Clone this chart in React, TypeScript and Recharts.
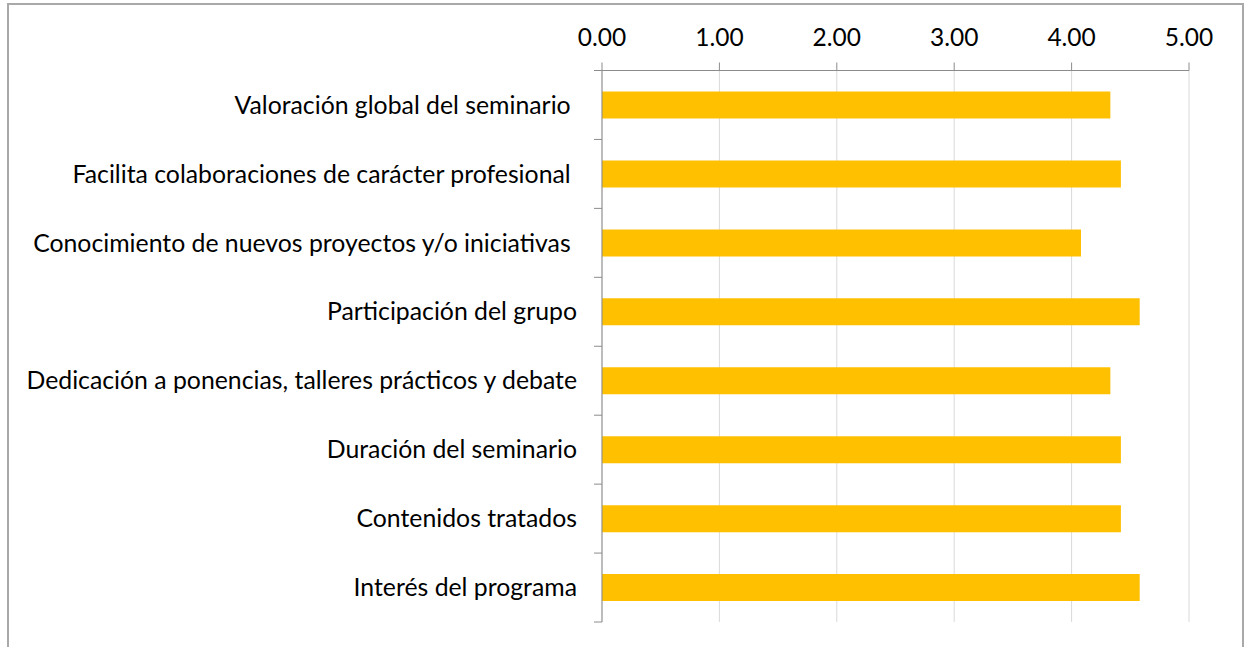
import React from 'react';
import { BarChart, Bar, XAxis, YAxis, CartesianGrid } from 'recharts';

const categories = [
  'Valoración global del seminario ',
  'Facilita colaboraciones de carácter profesional ',
  'Conocimiento de nuevos proyectos y/o iniciativas ',
  'Participación del grupo',
  'Dedicación a ponencias, talleres prácticos y debate',
  'Duración del seminario',
  'Contenidos tratados',
  'Interés del programa',
];
const scores = [4.33, 4.42, 4.08, 4.58, 4.33, 4.42, 4.42, 4.58];
const xTicks = [0, 1, 2, 3, 4, 5];

const data = categories.map((name, i) => ({ name, score: scores[i] }));

const W = 1245;
const H = 647;
const margin = { top: 40, right: 56, bottom: 25, left: 0 };
const X_AXIS_H = 30.5;
const Y_AXIS_W = 602;
const BAND = (H - margin.bottom - margin.top - X_AXIS_H) / categories.length;

const FONT = 'Lato, "Open Sans", sans-serif';
const FONT_SIZE = 24.8;
const AXIS_COLOR = '#8c8c8c';

// category labels, with the tick marks drawn between the categories
const CategoryTick = (props: any) => {
  const { x, y, payload, index } = props;
  const x0 = Y_AXIS_W - 8;
  return (
    <g>
      <line x1={x0} x2={Y_AXIS_W} y1={y - BAND / 2} y2={y - BAND / 2} stroke={AXIS_COLOR} />
      {index === categories.length - 1 && (
        <line x1={x0} x2={Y_AXIS_W} y1={y + BAND / 2} y2={y + BAND / 2} stroke={AXIS_COLOR} />
      )}
      <text
        x={x}
        y={y}
        dy="0.35em"
        textAnchor="end"
        fill="#000"
        fontFamily={FONT}
        fontSize={FONT_SIZE}
        style={{ whiteSpace: 'pre' }}
      >
        {payload.value}
      </text>
    </g>
  );
};

export default function App() {
  return (
    <div style={{ position: 'absolute', left: 0, top: 0, width: W, height: H, overflow: 'hidden', background: '#fff' }}>
      <div
        style={{
          position: 'absolute',
          left: 7,
          top: 3,
          width: 1233,
          height: 700,
          border: '2px solid #a9a9a9',
        }}
      />
      <div style={{ position: 'absolute', left: 0, top: 0 }}>
        <BarChart width={W} height={H} data={data} layout="vertical" margin={margin} barSize={27}>
          <CartesianGrid horizontal={false} stroke="#d9d9d9" />
          <XAxis
            type="number"
            orientation="top"
            domain={[0, 5]}
            ticks={xTicks}
            height={X_AXIS_H}
            tickSize={8}
            tickMargin={17}
            tickFormatter={(v: number) => v.toFixed(2)}
            tick={{ fill: '#000', fontFamily: FONT, fontSize: 24.5 }}
            axisLine={{ stroke: AXIS_COLOR }}
            tickLine={{ stroke: AXIS_COLOR }}
          />
          <YAxis
            type="category"
            dataKey="name"
            width={Y_AXIS_W}
            tickSize={8}
            tickMargin={17}
            tick={<CategoryTick />}
            tickLine={false}
            axisLine={{ stroke: AXIS_COLOR }}
            interval={0}
          />
          <Bar dataKey="score" fill="#ffc000" isAnimationActive={false} />
        </BarChart>
      </div>
    </div>
  );
}
